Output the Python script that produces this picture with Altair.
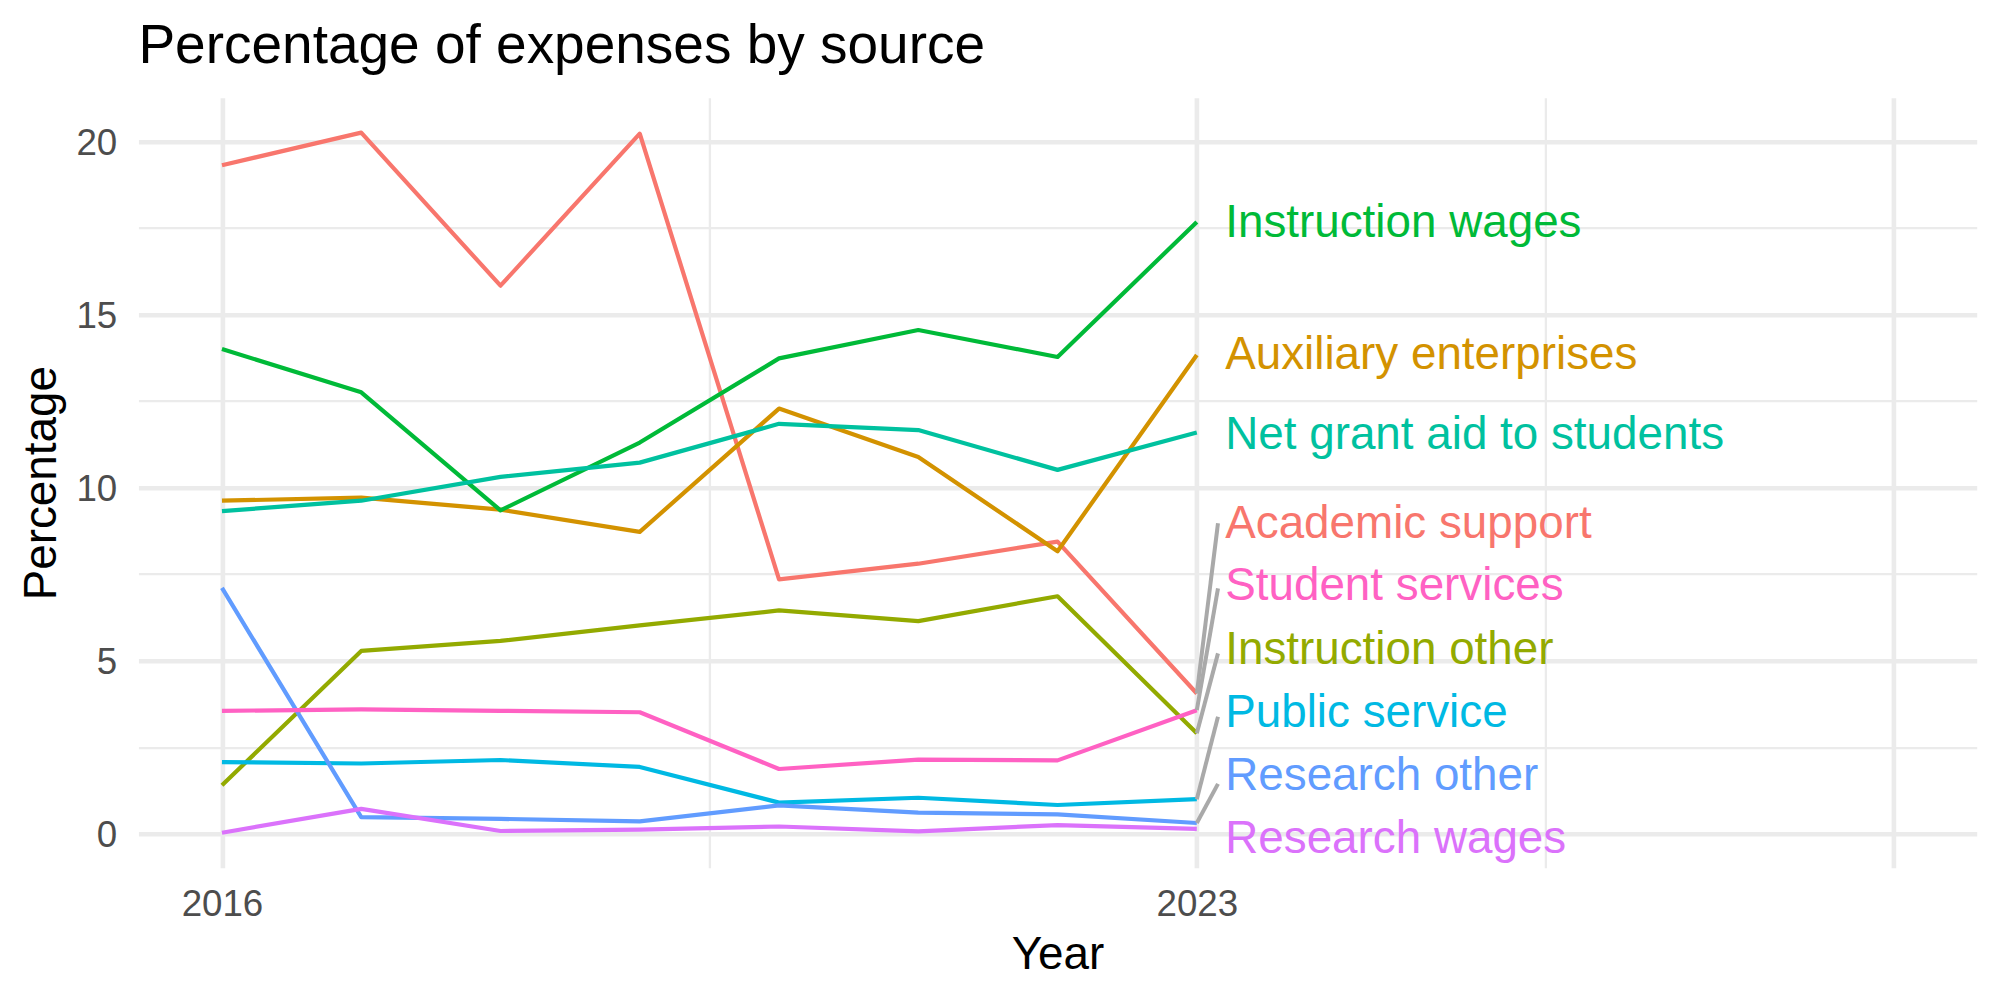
import json

import altair as alt
import pandas as pd

# ---- data -----------------------------------------------------------------
years = [2016, 2017, 2018, 2019, 2020, 2021, 2022, 2023]

categories = [
    "Academic support",
    "Auxiliary enterprises",
    "Instruction other",
    "Instruction wages",
    "Net grant aid to students",
    "Public service",
    "Research other",
    "Research wages",
    "Student services",
]

academic_support = [19.31, 20.25, 15.83, 20.22, 7.35, 7.80, 8.44, 4.05]
auxiliary_enterprises = [9.62, 9.71, 9.36, 8.72, 12.28, 10.88, 8.16, 13.83]
instruction_other = [1.40, 5.28, 5.57, 6.02, 6.45, 6.14, 6.86, 2.90]
instruction_wages = [14.00, 12.75, 9.34, 11.30, 13.73, 14.55, 13.77, 17.67]
net_grant_aid = [9.32, 9.62, 10.31, 10.72, 11.84, 11.66, 10.51, 11.59]
public_service = [2.07, 2.03, 2.13, 1.93, 0.90, 1.04, 0.83, 1.00]
research_other = [7.10, 0.48, 0.43, 0.36, 0.82, 0.61, 0.56, 0.31]
research_wages = [0.03, 0.72, 0.08, 0.12, 0.21, 0.07, 0.25, 0.14]
student_services = [3.55, 3.59, 3.55, 3.51, 1.87, 2.14, 2.12, 3.57]

series_values = [
    academic_support,
    auxiliary_enterprises,
    instruction_other,
    instruction_wages,
    net_grant_aid,
    public_service,
    research_other,
    research_wages,
    student_services,
]

# repelled label positions (percentage units), one per category
label_y = [9.01, 13.89, 5.37, 17.69, 11.59, 3.56, 1.72, -0.09, 7.21]

# leader segments: category and where the segment meets its label
segment_categories = ["Academic support", "Student services", "Instruction other",
                      "Public service", "Research other"]
segment_end_y = [8.97, 7.09, 5.21, 3.38, 1.44]

# axis breaks
x_label_breaks = [2016, 2023]
x_major_breaks = [2016, 2023, 2028]
x_minor_breaks = [2019.5, 2025.5]
y_major_breaks = [0, 5, 10, 15, 20]
y_minor_breaks = [2.5, 7.5, 12.5, 17.5]

palette = ["#F8766D", "#D39200", "#93AA00", "#00BA38", "#00C19F",
           "#00B9E3", "#619CFF", "#DB72FB", "#FF61C3"]

# ---- tables -----------------------------------------------------------------
long_rows = []
for name, vals in zip(categories, series_values):
    for yr, v in zip(years, vals):
        long_rows.append({"category": name, "year": yr, "pct": v})
lines_df = pd.DataFrame(long_rows)

last_year = years[-1]
label_x = last_year + 0.204
segment_x = last_year + 0.152

labels_df = pd.DataFrame({
    "category": categories,
    "lx": [label_x] * len(categories),
    "ly": label_y,
})

end_values = {name: vals[-1] for name, vals in zip(categories, series_values)}
segments_df = pd.DataFrame({
    "category": segment_categories,
    "x0": [last_year] * len(segment_categories),
    "y0": [end_values[c] for c in segment_categories],
    "x1": [segment_x] * len(segment_categories),
    "y1": segment_end_y,
})

# ---- scales and axes --------------------------------------------------------
x_scale = alt.Scale(domain=[2015.4, 2028.6], nice=False, zero=False)
y_scale = alt.Scale(domain=[-0.98, 21.26], nice=False, zero=False)
color_scale = alt.Scale(domain=categories, range=palette)

FONT = "Liberation Sans"
GRID = "#EBEBEB"


def minor_width(minor):
    return {
        "condition": {"test": f"indexof({json.dumps(minor)}, datum.value) >= 0",
                      "value": 2.3},
        "value": 4.6,
    }


def shown_labels(shown):
    return f"indexof({json.dumps(shown)}, datum.value) >= 0 ? format(datum.value, 'd') : ''"


x_axis = alt.Axis(
    values=sorted(x_major_breaks + x_minor_breaks),
    labelExpr=shown_labels(x_label_breaks),
    title="Year",
    grid=True,
    gridColor=GRID,
    gridWidth=minor_width(x_minor_breaks),
    labelBaseline="alphabetic",
    labelPadding=48.3,
    labelFlush=False,
    labelOverlap=False,
    titleBaseline="alphabetic",
    titleX=919,
    titleY=100.6,
    titleAlign="center",
)

y_axis = alt.Axis(
    values=sorted(y_major_breaks + y_minor_breaks),
    labelExpr=shown_labels(y_major_breaks),
    title="Percentage",
    grid=True,
    gridColor=GRID,
    gridWidth=minor_width(y_minor_breaks),
    labelBaseline="alphabetic",
    labelOffset=13.0,
    labelPadding=21.7,
    labelFlush=False,
    labelOverlap=False,
    titleAngle=270,
    titleBaseline="alphabetic",
    titleAlign="center",
    titleX=-83.4,
    titleY=385,
)

# ---- series lines -----------------------------------------------------------
lines = alt.Chart(lines_df).mark_line(strokeWidth=4.2, strokeJoin="round").encode(
    x=alt.X("year:Q", scale=x_scale, axis=x_axis),
    y=alt.Y("pct:Q", scale=y_scale, axis=y_axis),
    color=alt.Color("category:N", scale=color_scale, legend=None),
)

# ---- label leaders and labels -----------------------------------------------
segments = alt.Chart(segments_df).mark_rule(color="#A9A9A9", strokeWidth=4.0).encode(
    x=alt.X("x0:Q", scale=x_scale, axis=x_axis),
    y=alt.Y("y0:Q", scale=y_scale, axis=y_axis),
    x2="x1:Q",
    y2="y1:Q",
)

labels = alt.Chart(labels_df).mark_text(
    align="left", baseline="alphabetic", dy=16.2, fontSize=45.8, font=FONT
).encode(
    x=alt.X("lx:Q", scale=x_scale, axis=x_axis),
    y=alt.Y("ly:Q", scale=y_scale, axis=y_axis),
    text="category:N",
    color=alt.Color("category:N", scale=color_scale, legend=None),
)

chart = alt.layer(lines, segments, labels).properties(
    width=1838.3,
    height=770,
    padding={"left": 138.4, "top": 97.7, "right": 23.3, "bottom": 132.0},
    autosize=alt.AutoSizeParams(type="none"),
    title=alt.TitleParams(
        "Percentage of expenses by source",
        anchor="start",
        frame="group",
        fontSize=55,
        font=FONT,
        fontWeight="normal",
        color="black",
        baseline="alphabetic",
        offset=34.4,
        dy=55,
    ),
).configure(
    background="white"
).configure_view(
    stroke=None
).configure_axis(
    domain=False,
    ticks=False,
    tickSize=0,
    labelFont=FONT,
    labelFontSize=36.7,
    labelColor="#4D4D4D",
    titleFont=FONT,
    titleFontSize=45.8,
    titleFontWeight="normal",
    titleColor="black",
)

chart.save("out.html", embed_options={"renderer": "svg", "actions": False})
